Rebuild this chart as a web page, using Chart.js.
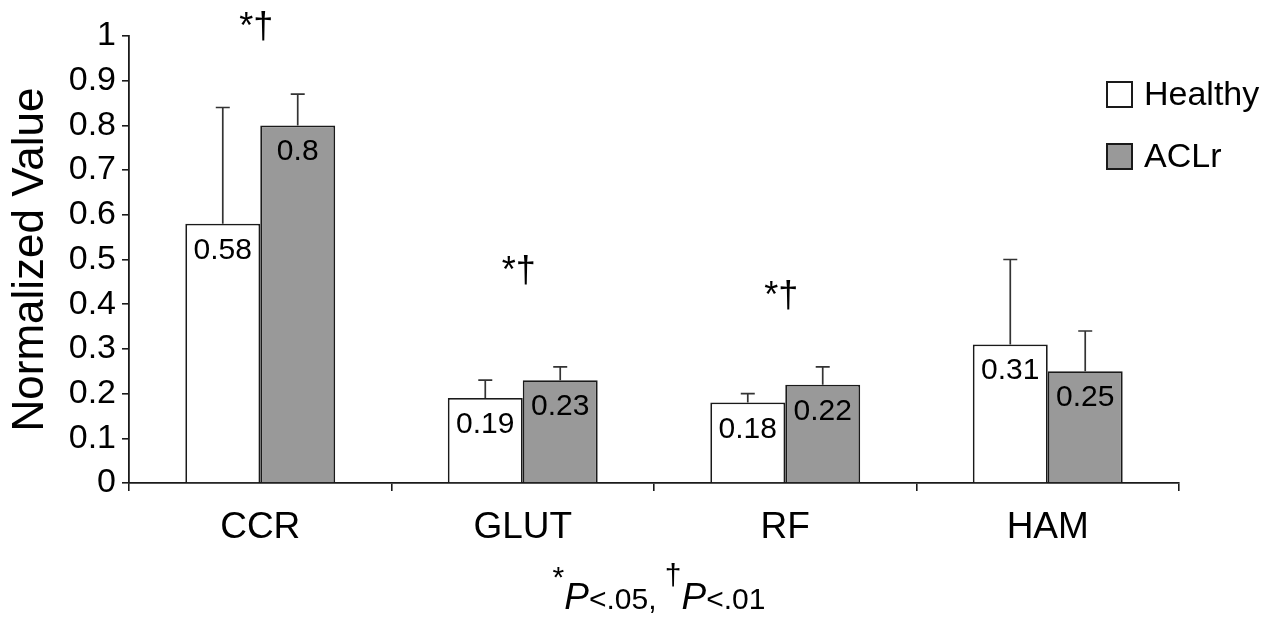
<!DOCTYPE html>
<html>
<head>
<meta charset="utf-8">
<script src="https://cdn.jsdelivr.net/npm/chart.js@4/dist/chart.umd.min.js"></script>
<style>
  html, body { margin: 0; padding: 0; background: #fff; }
  #wrap { width: 1287px; height: 620px; }
</style>
</head>
<body>
<div id="wrap"><canvas id="chart" width="1287" height="620"></canvas></div>
<script>
// --- data ---
const categories = ['CCR', 'GLUT', 'RF', 'HAM'];
const healthy = [0.58, 0.19, 0.18, 0.31];
const aclr = [0.80, 0.23, 0.22, 0.25];
const healthyErrTop = [0.84, 0.23, 0.20, 0.50];
const aclrErrTop = [0.87, 0.26, 0.26, 0.34];
const yTickLabels = ['0', '0.1', '0.2', '0.3', '0.4', '0.5', '0.6', '0.7', '0.8', '0.9', '1'];
const sigMarks = ['*\u2020', '*\u2020', '*\u2020', ''];
const sigHeights = [1.018, 0.472, 0.416, null];

const FONT = "'Liberation Sans', Arial, Helvetica, sans-serif";
const INK = '#1a1a1a';
const GRAY = '#999999';

Chart.defaults.font.family = FONT;
Chart.defaults.color = '#000';

// error bars (upper half only)
const errorBars = {
  id: 'errorBars',
  afterDatasetsDraw(chart) {
    const ctx = chart.ctx;
    const y = chart.scales.y;
    const tops = [healthyErrTop, aclrErrTop];
    ctx.save();
    ctx.strokeStyle = '#333';
    ctx.lineWidth = 1.7;
    chart.data.datasets.forEach((ds, i) => {
      chart.getDatasetMeta(i).data.forEach((bar, j) => {
        const yt = y.getPixelForValue(tops[i][j]);
        ctx.beginPath();
        ctx.moveTo(bar.x, bar.y);
        ctx.lineTo(bar.x, yt);
        ctx.moveTo(bar.x - 7, yt);
        ctx.lineTo(bar.x + 7, yt);
        ctx.stroke();
      });
    });
    ctx.restore();
  }
};

// value labels just inside the top of each bar
const valueLabels = {
  id: 'valueLabels',
  afterDatasetsDraw(chart) {
    const ctx = chart.ctx;
    ctx.save();
    ctx.font = '30px ' + FONT;
    ctx.fillStyle = '#000';
    ctx.textAlign = 'center';
    ctx.textBaseline = 'alphabetic';
    chart.data.datasets.forEach((ds, i) => {
      chart.getDatasetMeta(i).data.forEach((bar, j) => {
        ctx.fillText(String(ds.data[j]), bar.x, bar.y + 35);
      });
    });
    ctx.restore();
  }
};

// significance marks, legend and footnote
const extras = {
  id: 'extras',
  afterDraw(chart) {
    const ctx = chart.ctx;
    const x = chart.scales.x, y = chart.scales.y;
    ctx.save();
    ctx.fillStyle = '#000';

    // *† above the groups
    ctx.font = '36px ' + FONT;
    ctx.textAlign = 'center';
    ctx.textBaseline = 'middle';
    categories.forEach((c, j) => {
      if (!sigMarks[j]) return;
      ctx.fillText(sigMarks[j], x.getPixelForValue(j) - 4, y.getPixelForValue(sigHeights[j]));
    });

    // legend
    const items = chart.data.datasets;
    ctx.textAlign = 'left';
    ctx.font = '34px ' + FONT;
    items.forEach((ds, i) => {
      const bx = 1107, by = 82 + i * 62;
      ctx.fillStyle = ds.backgroundColor;
      ctx.fillRect(bx, by, 25, 25);
      ctx.strokeStyle = INK;
      ctx.lineWidth = 2;
      ctx.strokeRect(bx, by, 25, 25);
      ctx.fillStyle = '#000';
      ctx.textBaseline = 'middle';
      ctx.fillText(ds.label, 1144, by + 14);
    });

    // footnote: *P<.05, †P<.01
    const parts = [
      { t: '*', f: '30px ' + FONT, dy: -22 },
      { t: 'P', f: 'italic 37px ' + FONT, dy: 0 },
      { t: '<.05, ', f: '30px ' + FONT, dy: 0 },
      { t: '\u2020', f: '30px ' + FONT, dy: -24 },
      { t: 'P', f: 'italic 37px ' + FONT, dy: 0 },
      { t: '<.01', f: '30px ' + FONT, dy: 0 }
    ];
    let total = 0;
    parts.forEach(p => { ctx.font = p.f; p.w = ctx.measureText(p.t).width; total += p.w; });
    let px = 659 - total / 2;
    const base = 609;
    ctx.textBaseline = 'alphabetic';
    parts.forEach(p => {
      ctx.font = p.f;
      ctx.fillText(p.t, px, base + p.dy);
      px += p.w;
    });
    ctx.restore();
  }
};

new Chart(document.getElementById('chart'), {
  type: 'bar',
  data: {
    labels: categories,
    datasets: [
      { label: 'Healthy', data: healthy, backgroundColor: '#ffffff', borderColor: INK, borderWidth: 1.8,
        categoryPercentage: 0.571, barPercentage: 1.0 },
      { label: 'ACLr', data: aclr, backgroundColor: GRAY, borderColor: INK, borderWidth: 1.8,
        categoryPercentage: 0.571, barPercentage: 1.0 }
    ]
  },
  options: {
    responsive: false,
    animation: false,
    layout: { padding: { top: 36, right: 108, left: 0, bottom: 0 } },
    plugins: { legend: { display: false }, tooltip: { enabled: false } },
    scales: {
      y: {
        min: 0, max: 1,
        afterFit: s => { s.width = 129; },
        ticks: { stepSize: 0.1, padding: 6, color: '#000', font: { size: 34 },
          callback: (v, i) => yTickLabels[i] },
        grid: { drawOnChartArea: false, tickLength: 7, color: INK, lineWidth: 1.6 },
        border: { color: INK, width: 1.8 },
        title: { display: true, text: 'Normalized Value', color: '#000', font: { size: 44 },
          padding: { top: 4, bottom: 0 } }
      },
      x: {
        afterFit: s => { s.height = 137; },
        ticks: { padding: 15, color: '#000', font: { size: 37 } },
        grid: { offset: true, drawOnChartArea: false, tickLength: 8, color: INK, lineWidth: 1.6 },
        border: { color: INK, width: 1.8 }
      }
    }
  },
  plugins: [errorBars, valueLabels, extras]
});
</script>
</body>
</html>
